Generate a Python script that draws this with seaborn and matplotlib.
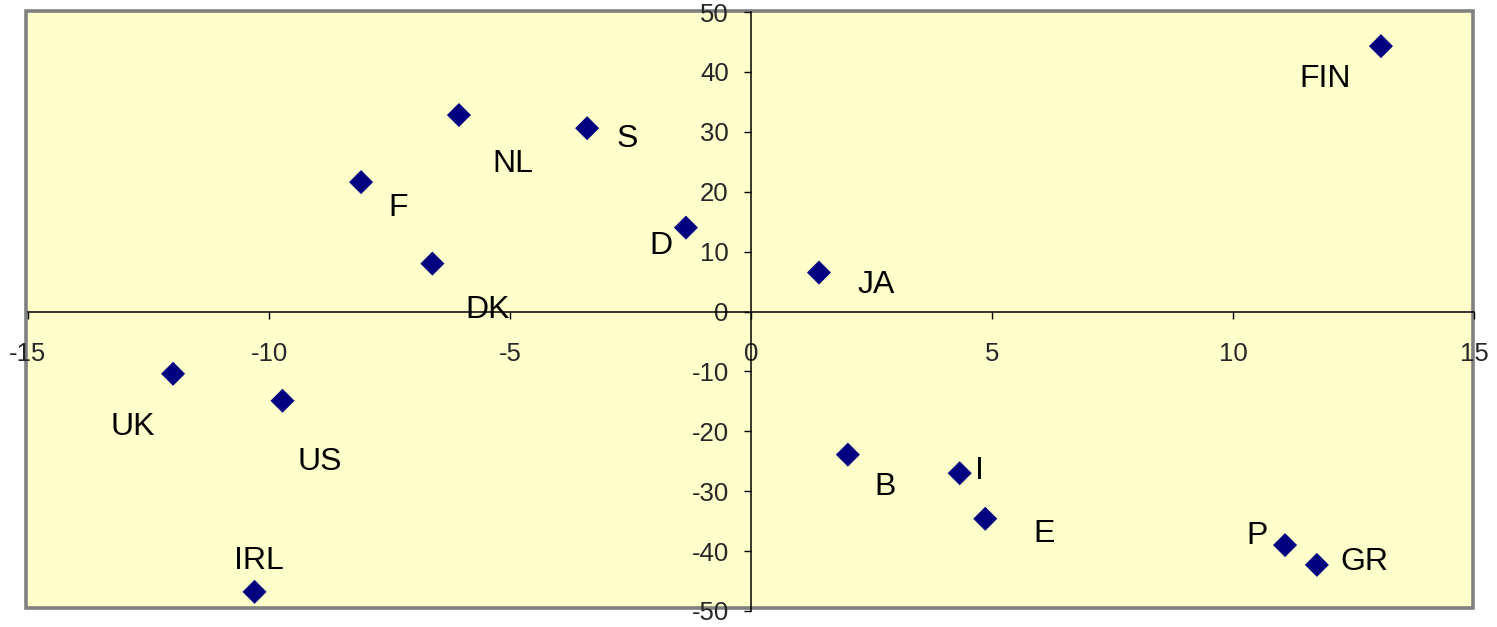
import matplotlib
matplotlib.use("Agg")
import matplotlib.pyplot as plt
from matplotlib.patches import Rectangle
import pandas as pd
import seaborn as sns

# Country scores on the two components
countries = ["FIN", "NL", "S", "F", "D", "DK", "JA", "UK", "US", "IRL",
             "B", "I", "E", "P", "GR"]
x_scores = [13.07, -6.06, -3.40, -8.09, -1.35, -6.61, 1.41, -11.99, -9.72, -10.30,
            2.01, 4.33, 4.86, 11.08, 11.74]
y_scores = [44.3, 32.8, 30.6, 21.6, 14.0, 8.0, 6.5, -10.4, -14.9, -46.8,
            -23.9, -27.0, -34.6, -39.0, -42.3]

x_ticks = [-15, -10, -5, 0, 5, 10, 15]
y_ticks = [-50, -40, -30, -20, -10, 0, 10, 20, 30, 40, 50]

# label placement relative to each marker, in pixels (dx right, dy down)
label_offsets = {
    "FIN": (-56, 33), "NL": (54, 49), "S": (40, 11), "F": (37, 26),
    "D": (-25, 18), "DK": (55, 46), "JA": (57, 12), "UK": (-40, 53),
    "US": (37, 61), "IRL": (4, -31), "B": (37, 32), "I": (20, -2),
    "E": (59, 15), "P": (-28, -9), "GR": (48, -3),
}

df = pd.DataFrame({"country": countries, "x": x_scores, "y": y_scores})

sns.set_theme(style="white")
plt.rcParams["font.family"] = ["Liberation Sans", "DejaVu Sans"]

W, H = 1497, 627
fig = plt.figure(figsize=(W / 100, H / 100), dpi=100)
fig.patch.set_facecolor("white")

# plot area: pale yellow fill with grey border
frame = Rectangle((26.3 / W, 1 - 607.5 / H), (1472.5 - 26.3) / W, (607.5 - 11) / H,
                  transform=fig.transFigure, facecolor="#FFFFCC",
                  edgecolor="#808080", linewidth=2.6, zorder=-1)
fig.patches.append(frame)

ax = fig.add_axes([28 / W, 1 - 611 / H, (1474 - 28) / W, (611 - 12) / H])
ax.set_facecolor("none")

sns.scatterplot(data=df, x="x", y="y", ax=ax, marker="D", s=150,
                color="#000080", edgecolor="none", legend=False, zorder=3)

for name, xv, yv in zip(countries, x_scores, y_scores):
    dx, dy = label_offsets[name]
    ax.annotate(name, (xv, yv), xytext=(dx, -dy), textcoords="offset pixels",
                ha="center", va="center", fontsize=23, color="black")

ax.set_xlim(-15, 15)
ax.set_ylim(-50, 50)
ax.set_xticks(x_ticks)
ax.set_yticks(y_ticks)
ax.set_xticklabels([str(v) for v in x_ticks])
ax.set_yticklabels([str(v) for v in y_ticks])
ax.set_xlabel("")
ax.set_ylabel("")

# axes cross at the origin
for side in ("left", "bottom"):
    ax.spines[side].set_position(("data", 0))
    ax.spines[side].set_color("black")
    ax.spines[side].set_linewidth(1.1)
    ax.spines[side].set_visible(True)
for side in ("top", "right"):
    ax.spines[side].set_visible(False)

ax.tick_params(axis="x", direction="out", length=5, width=1, color="black",
               labelsize=18.5, pad=17, bottom=True)
ax.tick_params(axis="y", direction="out", length=5, width=1, color="black",
               labelsize=18.5, pad=11, left=True)

fig.savefig("out.png", dpi=100)
